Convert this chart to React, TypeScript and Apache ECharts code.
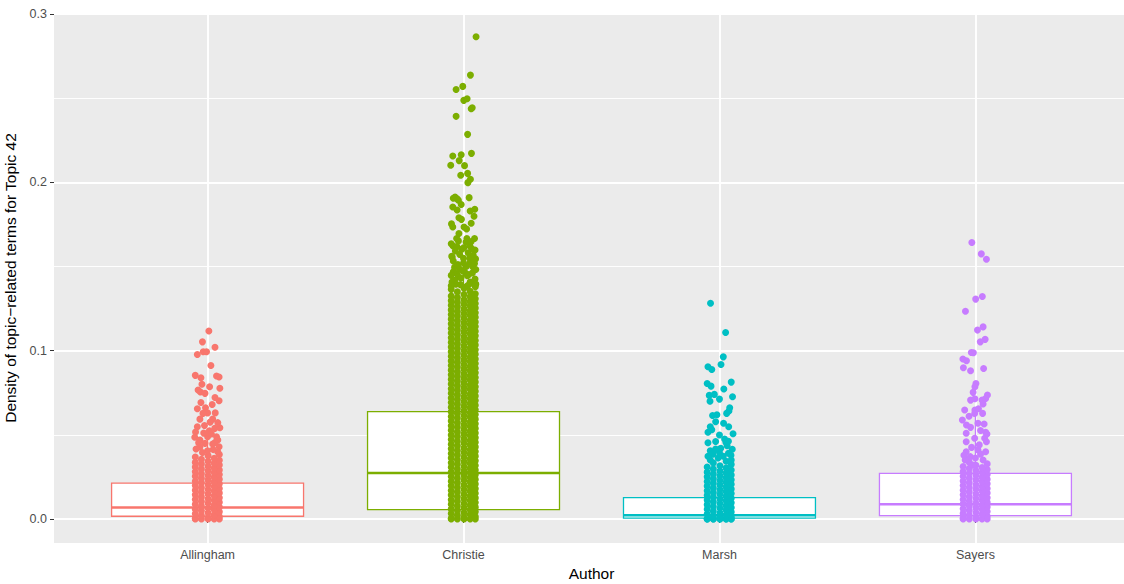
import React, { useEffect, useRef } from "react";
import * as echarts from "echarts";

const authors = ["Allingham", "Christie", "Marsh", "Sayers"];
const authorColors = ["#F8766D", "#7CAE00", "#00BFC4", "#C77CFF"];

// box statistics
const whiskerLow = [0, 0, 0, 0];
const q1 = [0.0016, 0.0055, 0.0005, 0.002];
const medians = [0.0068, 0.0273, 0.0022, 0.0087];
const q3 = [0.0213, 0.0637, 0.0127, 0.0271];
const whiskerHigh = [0.051, 0.151, 0.031, 0.064];

const yTickValues = [0, 0.1, 0.2, 0.3];

// horizontal jitter offsets used for the densely packed observations
const jitter = [-0.048, 0.002, 0.046, -0.024, 0.026];

// densely packed observations (values only)
const allinghamDense = [
  0, 0, 0, 0, 0,
  0.0003, 0.0009, 0.0014, 0.0021, 0.0025, 0.0031, 0.0037, 0.0042, 0.0049, 0.0055,
  0.0058, 0.0065, 0.0071, 0.0076, 0.0082, 0.0087, 0.0093, 0.0099, 0.0104, 0.0111,
  0.0115, 0.0120, 0.0126, 0.0131, 0.0137, 0.0143, 0.0148, 0.0154, 0.0159, 0.0166,
  0.0170, 0.0175, 0.0181, 0.0186, 0.0192, 0.0198, 0.0203, 0.0209, 0.0215, 0.0220,
  0.0224, 0.0231, 0.0236, 0.0241, 0.0247, 0.0253, 0.0258, 0.0264, 0.0269, 0.0276,
  0.0280, 0.0286, 0.0291, 0.0297, 0.0302, 0.0308, 0.0313, 0.0320, 0.0326, 0.0331,
  0.0336, 0.0342, 0.0348, 0.0355, 0.0361, 0.0368, 0.0376, 0.0383,
];
const christieDense = [
  0, 0, 0, 0, 0,
  0.0004, 0.0010, 0.0015, 0.0022, 0.0026, 0.0032, 0.0037, 0.0043, 0.0050, 0.0055,
  0.0059, 0.0065, 0.0070, 0.0077, 0.0081, 0.0087, 0.0092, 0.0098, 0.0105, 0.0110,
  0.0114, 0.0120, 0.0125, 0.0132, 0.0136, 0.0142, 0.0147, 0.0153, 0.0160, 0.0165,
  0.0169, 0.0175, 0.0180, 0.0187, 0.0191, 0.0197, 0.0202, 0.0208, 0.0215, 0.0220,
  0.0224, 0.0230, 0.0235, 0.0242, 0.0246, 0.0252, 0.0257, 0.0263, 0.0270, 0.0275,
  0.0279, 0.0285, 0.0290, 0.0297, 0.0301, 0.0307, 0.0312, 0.0318, 0.0325, 0.0330,
  0.0334, 0.0340, 0.0345, 0.0352, 0.0356, 0.0362, 0.0367, 0.0373, 0.0380, 0.0385,
  0.0389, 0.0395, 0.0400, 0.0407, 0.0411, 0.0417, 0.0422, 0.0428, 0.0435, 0.0440,
  0.0444, 0.0450, 0.0455, 0.0462, 0.0466, 0.0472, 0.0477, 0.0483, 0.0490, 0.0495,
  0.0499, 0.0505, 0.0510, 0.0517, 0.0521, 0.0527, 0.0532, 0.0538, 0.0545, 0.0550,
  0.0554, 0.0560, 0.0565, 0.0572, 0.0576, 0.0582, 0.0587, 0.0593, 0.0600, 0.0605,
  0.0609, 0.0615, 0.0620, 0.0627, 0.0631, 0.0637, 0.0642, 0.0648, 0.0655, 0.0660,
  0.0664, 0.0670, 0.0675, 0.0682, 0.0686, 0.0692, 0.0697, 0.0703, 0.0710, 0.0715,
  0.0719, 0.0725, 0.0730, 0.0737, 0.0741, 0.0747, 0.0752, 0.0758, 0.0765, 0.0770,
  0.0774, 0.0780, 0.0785, 0.0792, 0.0796, 0.0802, 0.0807, 0.0813, 0.0820, 0.0825,
  0.0829, 0.0835, 0.0840, 0.0847, 0.0851, 0.0857, 0.0862, 0.0868, 0.0875, 0.0880,
  0.0884, 0.0890, 0.0895, 0.0902, 0.0906, 0.0912, 0.0917, 0.0923, 0.0930, 0.0935,
  0.0939, 0.0945, 0.0950, 0.0957, 0.0961, 0.0967, 0.0972, 0.0978, 0.0985, 0.0990,
  0.0994, 0.1000, 0.1005, 0.1012, 0.1016, 0.1022, 0.1027, 0.1033, 0.1040, 0.1045,
  0.1049, 0.1055, 0.1060, 0.1067, 0.1071, 0.1077, 0.1082, 0.1088, 0.1095, 0.1100,
  0.1104, 0.1110, 0.1115, 0.1122, 0.1126, 0.1132, 0.1137, 0.1143, 0.1150, 0.1155,
  0.1159, 0.1165, 0.1170, 0.1177, 0.1181, 0.1187, 0.1192, 0.1198, 0.1205, 0.1210,
  0.1214, 0.1220, 0.1225, 0.1232, 0.1236, 0.1242, 0.1247, 0.1253, 0.1260, 0.1265,
  0.1269, 0.1275, 0.1280, 0.1287, 0.1291, 0.1297, 0.1302, 0.1308, 0.1315, 0.1320,
  0.1324, 0.1333, 0.1338, 0.1349, 0.1352, 0.1364, 0.1371, 0.1379,
];
const marshDense = [
  0, 0, 0, 0, 0, 0, 0, 0, 0, 0,
  0.0002, 0.0007, 0.0013, 0.0018, 0.0024, 0.0029, 0.0035, 0.0041, 0.0046, 0.0053,
  0.0057, 0.0063, 0.0068, 0.0074, 0.0079, 0.0085, 0.0091, 0.0096, 0.0102, 0.0108,
  0.0112, 0.0118, 0.0123, 0.0129, 0.0135, 0.0140, 0.0146, 0.0151, 0.0157, 0.0163,
  0.0167, 0.0173, 0.0178, 0.0184, 0.0190, 0.0195, 0.0201, 0.0206, 0.0212, 0.0218,
  0.0222, 0.0228, 0.0233, 0.0239, 0.0245, 0.0250, 0.0256, 0.0261, 0.0267, 0.0273,
  0.0278, 0.0284, 0.0290, 0.0296, 0.0303, 0.0309, 0.0316, 0.0324, 0.0333, 0.0343,
];
const sayersDense = [
  0, 0, 0, 0, 0,
  0.0005, 0.0011, 0.0016, 0.0022, 0.0027, 0.0033, 0.0038, 0.0044, 0.0050, 0.0056,
  0.0060, 0.0066, 0.0071, 0.0077, 0.0082, 0.0088, 0.0093, 0.0099, 0.0105, 0.0111,
  0.0115, 0.0121, 0.0126, 0.0132, 0.0137, 0.0143, 0.0148, 0.0154, 0.0160, 0.0166,
  0.0170, 0.0176, 0.0181, 0.0187, 0.0192, 0.0198, 0.0203, 0.0209, 0.0215, 0.0221,
  0.0225, 0.0231, 0.0236, 0.0242, 0.0247, 0.0253, 0.0258, 0.0264, 0.0270, 0.0276,
  0.0281, 0.0287, 0.0293, 0.0299, 0.0305, 0.0312, 0.0319, 0.0327, 0.0336,
];

// individually visible observations: [jitter offset, value]
const allinghamSparse: [number, number][] = [
  [0.005, 0.1117], [-0.02, 0.1052], [0.029, 0.102], [-0.04, 0.0977], [-0.017, 0.0993], [-0.004, 0.0993],
  [0.013, 0.0912], [-0.048, 0.0853], [-0.026, 0.0839], [0.035, 0.0849], [0.045, 0.0843], [-0.022, 0.08],
  [0.008, 0.0785], [0.048, 0.0776], [-0.037, 0.0766], [-0.028, 0.0754], [-0.01, 0.0746], [0.029, 0.0722],
  [0.045, 0.0702], [-0.026, 0.0692], [-0.04, 0.0655], [-0.008, 0.066], [0.018, 0.068], [0.0, 0.063],
  [0.03, 0.063], [-0.018, 0.0627], [-0.03, 0.0593], [0.02, 0.0593], [-0.047, 0.0516], [0.007, 0.0524],
  [0.028, 0.0538], [0.048, 0.0542], [-0.05, 0.0485], [-0.03, 0.0469], [0.0, 0.0488], [0.035, 0.0488],
  [0.04, 0.0469], [-0.03, 0.0427], [-0.01, 0.0449], [0.02, 0.0445], [0.045, 0.0429], [0.01, 0.0575],
  [-0.012, 0.0555], [0.04, 0.0572], [-0.04, 0.0548], [0.015, 0.0505], [-0.015, 0.051], [0.03, 0.0455],
  [-0.045, 0.0415], [0.0, 0.0405], [0.04, 0.0398], [-0.02, 0.0395], [0.022, 0.0412], [-0.035, 0.0452],
];
const christieSparse: [number, number][] = [
  [0.049, 0.2865], [0.027, 0.2637], [-0.029, 0.2552], [-0.003, 0.257], [0.001, 0.2487], [0.014, 0.2497],
  [0.03, 0.2437], [0.034, 0.2443], [-0.029, 0.2392], [0.016, 0.2285], [-0.042, 0.2156], [-0.009, 0.2164],
  [0.031, 0.2172], [-0.05, 0.2101], [-0.017, 0.2129], [0.004, 0.2099], [-0.011, 0.2042], [0.016, 0.2053],
  [0.027, 0.2018], [0.017, 0.1998], [0.022, 0.1909], [-0.04, 0.1905], [-0.033, 0.1912], [-0.025, 0.1902],
  [-0.02, 0.1893], [-0.009, 0.1868], [-0.042, 0.1853], [-0.025, 0.1836], [0.026, 0.183], [0.044, 0.184],
  [0.041, 0.1798], [-0.018, 0.179], [-0.008, 0.178], [-0.047, 0.1753], [-0.042, 0.1735], [0.03, 0.1757],
  [0.002, 0.1735], [0.012, 0.1723], [-0.018, 0.1696], [-0.027, 0.1666], [0.013, 0.1666], [0.043, 0.1666],
  [-0.041, 0.1622], [-0.026, 0.1618], [-0.006, 0.1603], [0.002, 0.1612], [0.025, 0.1622], [0.045, 0.1598],
  [-0.044, 0.1555], [0.025, 0.155], [0.047, 0.1545], [-0.046, 0.156], [0.038, 0.1567], [0.026, 0.1527],
  [0.043, 0.1517], [0.037, 0.1497], [-0.04, 0.1468], [-0.027, 0.1458], [0.004, 0.1468], [-0.02, 0.1438],
  [-0.045, 0.1408], [-0.035, 0.1418], [0.026, 0.1408], [0.037, 0.1399], [0.01, 0.1379], [0.0, 0.152],
  [-0.015, 0.1485], [0.015, 0.1445], [-0.03, 0.1395], [0.045, 0.1425], [-0.01, 0.1432], [0.02, 0.1452],
  [-0.048, 0.1447], [0.035, 0.1462], [-0.005, 0.1475], [0.048, 0.1482], [-0.035, 0.1495], [0.012, 0.1502],
  [-0.022, 0.1512], [0.04, 0.1535], [-0.04, 0.1532], [0.0, 0.1548], [-0.015, 0.1572], [0.018, 0.1582],
  [-0.032, 0.1592], [0.032, 0.1605], [-0.048, 0.1635], [0.01, 0.1645], [0.03, 0.1648], [-0.02, 0.1652],
  [-0.012, 0.1392], [0.018, 0.1388], [0.048, 0.1395], [-0.048, 0.1385],
];
const marshSparse: [number, number][] = [
  [-0.035, 0.1282], [0.024, 0.1108], [0.015, 0.0963], [0.006, 0.0918], [-0.045, 0.0904], [-0.03, 0.0888],
  [0.046, 0.0813], [-0.048, 0.0805], [-0.033, 0.0789], [0.017, 0.0772], [-0.04, 0.0734], [-0.02, 0.074],
  [0.0, 0.0712], [-0.037, 0.0699], [0.051, 0.0726], [0.04, 0.066], [0.037, 0.0641], [0.028, 0.0627],
  [-0.027, 0.0615], [-0.01, 0.0619], [-0.015, 0.0577], [0.016, 0.0568], [0.036, 0.0548], [-0.036, 0.0548],
  [0.053, 0.0506], [-0.045, 0.0515], [0.0, 0.0499], [0.05, 0.0414], [-0.045, 0.0453], [-0.036, 0.0405],
  [0.046, 0.035], [-0.036, 0.035], [0.02, 0.0475], [-0.015, 0.046], [0.03, 0.0435], [0.005, 0.042],
  [-0.025, 0.0385], [0.015, 0.0372], [0.035, 0.039], [-0.005, 0.0362], [0.025, 0.0455], [-0.03, 0.053],
  [-0.045, 0.0372], [0.045, 0.0378], [0.0, 0.0395], [-0.015, 0.0415], [0.035, 0.0462],
];
const sayersSparse: [number, number][] = [
  [-0.014, 0.1642], [0.023, 0.1575], [0.043, 0.1543], [0.027, 0.1322], [0.001, 0.1306], [-0.039, 0.1234],
  [0.03, 0.1141], [0.008, 0.1122], [0.038, 0.1067], [0.019, 0.1052], [-0.016, 0.0989], [-0.008, 0.0987],
  [-0.049, 0.095], [-0.035, 0.094], [-0.047, 0.0898], [-0.019, 0.088], [0.032, 0.0894], [0.002, 0.0805],
  [-0.002, 0.0785], [-0.009, 0.0752], [0.047, 0.0736], [0.04, 0.0716], [-0.019, 0.0706], [-0.002, 0.0714],
  [0.026, 0.0706], [0.03, 0.0683], [-0.042, 0.0647], [-0.002, 0.0647], [-0.003, 0.0627], [0.028, 0.0627],
  [-0.051, 0.0588], [-0.035, 0.0558], [-0.019, 0.0544], [0.01, 0.0568], [0.034, 0.0564], [-0.036, 0.0509],
  [0.04, 0.0515], [0.036, 0.0479], [0.043, 0.0459], [-0.003, 0.0479], [-0.036, 0.0459], [-0.036, 0.0399],
  [-0.02, 0.037], [0.04, 0.0399], [0.01, 0.041], [0.03, 0.035], [-0.04, 0.035], [-0.01, 0.032],
  [0.015, 0.044], [-0.015, 0.0425], [0.02, 0.0525], [-0.025, 0.061], [0.012, 0.0655], [0.045, 0.0505],
  [0.0, 0.0362], [0.02, 0.0385], [-0.045, 0.0378],
];

const denseValues = [allinghamDense, christieDense, marshDense, sayersDense];
const sparsePoints = [allinghamSparse, christieSparse, marshSparse, sayersSparse];

const FONT = "'Liberation Sans', Arial, Helvetica, sans-serif";
const BOX_HALF = 0.375;

export default function App() {
  const ref = useRef<HTMLDivElement>(null);

  useEffect(() => {
    document.body.style.margin = "0";
    const chart = echarts.init(ref.current as HTMLDivElement, null, { renderer: "svg" });

    const boxData = authors.map((_, i) => [i + 1, whiskerLow[i], q1[i], medians[i], q3[i], whiskerHigh[i]]);
    const categoryPositions = authors.map((_, i) => i + 1);

    const pointSeries = authors.map((name, i) => ({
      type: "scatter",
      name,
      data: [
        ...denseValues[i].map((v, k) => [i + 1 + jitter[k % jitter.length], v]),
        ...sparsePoints[i].map(([o, v]) => [i + 1 + o, v]),
      ],
      symbol: "circle",
      symbolSize: 7,
      itemStyle: { color: authorColors[i], opacity: 1 },
      silent: true,
      z: 4,
    }));

    chart.setOption({
      animation: false,
      textStyle: { fontFamily: FONT },
      grid: {
        left: 54,
        top: 13,
        width: 1075,
        height: 530,
        show: true,
        backgroundColor: "#EBEBEB",
        borderWidth: 0,
        containLabel: false,
        outerBoundsMode: "none",
      },
      xAxis: {
        type: "value",
        min: 0.4,
        max: 4.6,
        axisLine: { show: false },
        axisTick: {
          show: true,
          customValues: categoryPositions,
          length: 4,
          lineStyle: { color: "#333333", width: 1 },
        },
        axisLabel: {
          customValues: categoryPositions,
          formatter: (v: number) => authors[Math.round(v) - 1] ?? "",
          color: "#4D4D4D",
          fontSize: 12.5,
          fontFamily: FONT,
          margin: 5,
        },
        splitLine: { show: true, lineStyle: { color: "#FFFFFF", width: 1.9 } },
        name: "Author",
        nameLocation: "middle",
        nameGap: 20,
        nameTextStyle: { color: "#000000", fontSize: 15.5, fontFamily: FONT },
      },
      yAxis: {
        type: "value",
        min: -0.0143,
        max: 0.3006,
        minInterval: 0.1,
        maxInterval: 0.1,
        axisLine: { show: false },
        axisTick: {
          show: true,
          customValues: yTickValues,
          length: 4,
          lineStyle: { color: "#333333", width: 1 },
        },
        axisLabel: {
          customValues: yTickValues,
          formatter: (v: number) => v.toFixed(1),
          color: "#4D4D4D",
          fontSize: 12.5,
          fontFamily: FONT,
          margin: 7,
        },
        splitLine: { show: true, lineStyle: { color: "#FFFFFF", width: 1.9 } },
        minorTick: { show: false, splitNumber: 2 },
        minorSplitLine: { show: true, lineStyle: { color: "#FFFFFF", width: 0.95 } },
        name: "Density of topic\u2212related terms for Topic 42",
        nameLocation: "middle",
        nameGap: 28,
        nameTextStyle: { color: "#000000", fontSize: 15.5, fontFamily: FONT },
      },
      series: [
        {
          type: "custom",
          name: "boxes",
          data: boxData,
          encode: { x: 0, y: [1, 2, 3, 4, 5] },
          silent: true,
          z: 2,
          renderItem: (params: any, api: any) => {
            const i = params.dataIndex;
            const x = api.value(0);
            const color = authorColors[i];
            const lo = api.coord([x, api.value(1)]);
            const q1c = api.coord([x, api.value(2)]);
            const q3c = api.coord([x, api.value(4)]);
            const hi = api.coord([x, api.value(5)]);
            const bl = api.coord([x - BOX_HALF, api.value(2)]);
            const tr = api.coord([x + BOX_HALF, api.value(4)]);
            const m1 = api.coord([x - BOX_HALF, api.value(3)]);
            const m2 = api.coord([x + BOX_HALF, api.value(3)]);
            return {
              type: "group",
              children: [
                {
                  type: "line",
                  shape: { x1: lo[0], y1: lo[1], x2: q1c[0], y2: q1c[1] },
                  style: { stroke: color, lineWidth: 1.3 },
                },
                {
                  type: "line",
                  shape: { x1: q3c[0], y1: q3c[1], x2: hi[0], y2: hi[1] },
                  style: { stroke: color, lineWidth: 1.3 },
                },
                {
                  type: "rect",
                  shape: { x: bl[0], y: tr[1], width: tr[0] - bl[0], height: bl[1] - tr[1] },
                  style: { fill: "#FFFFFF", stroke: color, lineWidth: 1.3 },
                },
                {
                  type: "line",
                  shape: { x1: m1[0], y1: m1[1], x2: m2[0], y2: m2[1] },
                  style: { stroke: color, lineWidth: 2.6 },
                },
              ],
            };
          },
        },
        ...pointSeries,
      ],
    });

    return () => chart.dispose();
  }, []);

  return <div ref={ref} style={{ width: 1124, height: 584 }} />;
}
